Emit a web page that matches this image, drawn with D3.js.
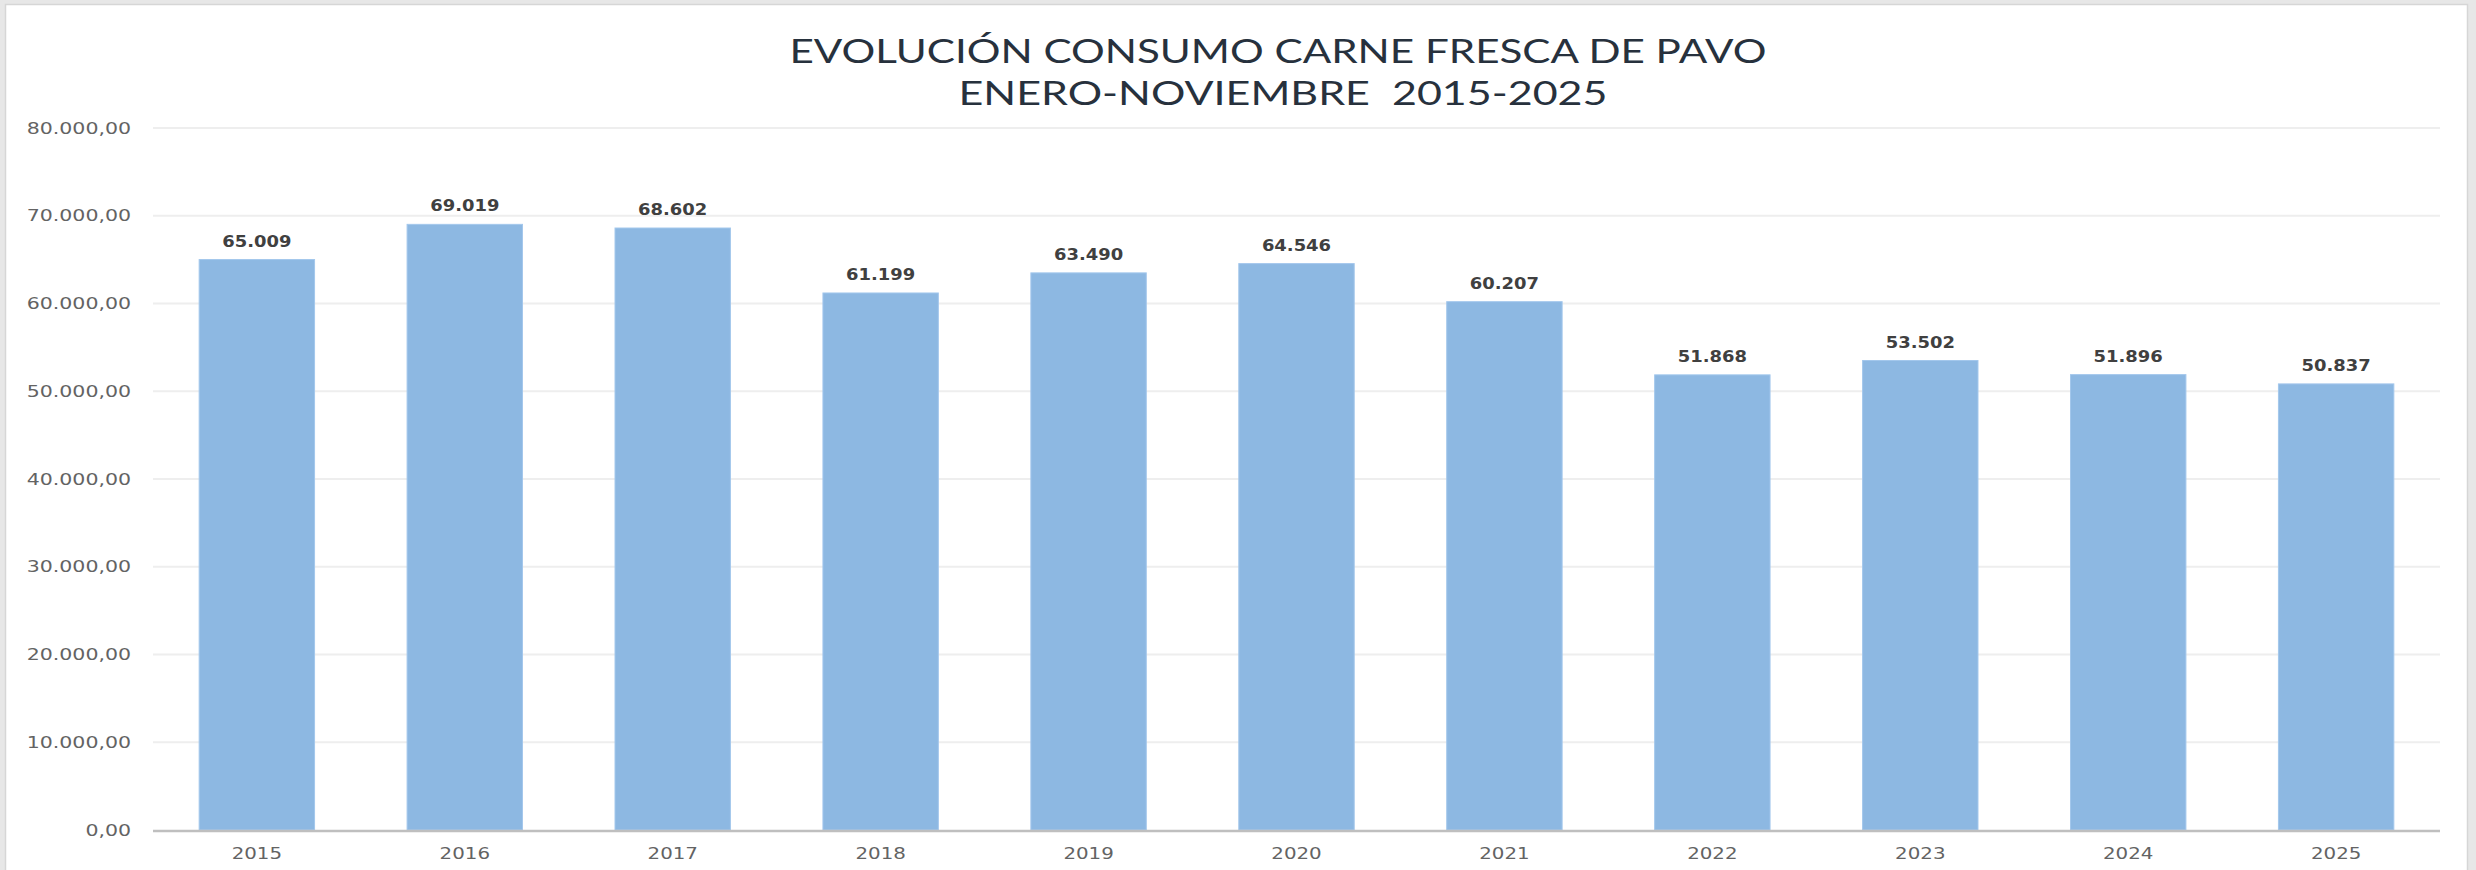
<!DOCTYPE html>
<html>
<head>
<meta charset="utf-8">
<script src="https://cdn.jsdelivr.net/npm/d3@7"></script>
<style>
  html, body { margin: 0; padding: 0; background: #e7e7e7; }
  svg { display: block; }
</style>
</head>
<body>
<svg id="chart" width="2476" height="870"></svg>
<script>
// ---- data ----
const years = ["2015","2016","2017","2018","2019","2020","2021","2022","2023","2024","2025"];
const values = [65009, 69019, 68602, 61199, 63490, 64546, 60207, 51868, 53502, 51896, 50837];
const yTicks = [0, 10000, 20000, 30000, 40000, 50000, 60000, 70000, 80000];
const titleLines = ["EVOLUCIÓN CONSUMO CARNE FRESCA DE PAVO", "ENERO-NOVIEMBRE  2015-2025"];

const W = 2476, H = 870;
const margin = {left: 153, right: W - 2440, top: 128, bottom: H - 830};
const svg = d3.select("#chart");

const es = d3.formatLocale({decimal: ",", thousands: ".", grouping: [3], currency: ["", "€"]});
const fmtTick = es.format(",.2f");
const fmtLabel = es.format(",.0f");

// panel
svg.append("rect").attr("x", 5.5).attr("y", 4.5).attr("width", 2462).attr("height", 900)
  .attr("fill", "#ffffff").attr("stroke", "#d6d6d6").attr("stroke-width", 1.5);

const x = d3.scaleBand().domain(years).range([margin.left, W - margin.right])
  .paddingInner(0.445).paddingOuter(0.222);
const y = d3.scaleLinear().domain([0, 80000]).range([H - margin.bottom, margin.top]);

// gridlines
svg.append("g").selectAll("line").data(yTicks.filter(d => d > 0)).join("line")
  .attr("x1", margin.left).attr("x2", W - margin.right)
  .attr("y1", d => y(d)).attr("y2", d => y(d))
  .attr("stroke", "#eeeeee").attr("stroke-width", 2);

// y axis labels
const yAxis = svg.append("g").attr("transform", `translate(${margin.left},0)`)
  .call(d3.axisLeft(y).tickValues(yTicks).tickFormat(fmtTick).tickSize(0).tickPadding(22));
yAxis.select(".domain").remove();
yAxis.selectAll("text").attr("font-family", "DejaVu Sans").attr("font-size", 16)
  .attr("fill", "#636363").attr("class", "stretch-y");

// bars
svg.append("g").selectAll("rect").data(years).join("rect")
  .attr("x", d => x(d)).attr("width", x.bandwidth())
  .attr("y", (d, i) => y(values[i])).attr("height", (d, i) => y(0) - y(values[i]))
  .attr("fill", "#8db8e2").attr("stroke", "#a3c7ec").attr("stroke-width", 1);

// x axis
const xAxis = svg.append("g").attr("transform", `translate(0,${y(0)})`)
  .call(d3.axisBottom(x).tickSize(0).tickPadding(17));
xAxis.select(".domain").attr("stroke", "#bfbfbf").attr("stroke-width", 2.5)
  .attr("d", `M${margin.left},1H${W - margin.right}`);
xAxis.selectAll("text").attr("font-family", "DejaVu Sans").attr("font-size", 16.5)
  .attr("fill", "#636363").attr("class", "stretch-x");

// data labels
svg.append("g").selectAll("text").data(years).join("text")
  .attr("x", d => x(d) + x.bandwidth() / 2)
  .attr("y", (d, i) => y(values[i]) - 13)
  .attr("text-anchor", "middle")
  .attr("font-family", "DejaVu Sans").attr("font-weight", "bold").attr("font-size", 16)
  .attr("fill", "#404040").attr("class", "stretch-d")
  .text((d, i) => fmtLabel(values[i]));

// title
const titleWidths = [977, 649];
svg.append("g").selectAll("text").data(titleLines).join("text")
  .attr("x", (d, i) => i === 0 ? 1278 : 1283)
  .attr("y", (d, i) => 63 + i * 42)
  .attr("text-anchor", "middle")
  .attr("font-family", "Lato").attr("font-size", 32)
  .attr("fill", "#27313d")
  .attr("textLength", (d, i) => titleWidths[i])
  .attr("lengthAdjust", "spacingAndGlyphs")
  .style("white-space", "pre")
  .text(d => d);

// horizontal stretch to mimic the reference's wide glyphs
function stretch(sel, k) {
  sel.each(function() {
    const w = this.getComputedTextLength();
    d3.select(this).attr("textLength", w * k).attr("lengthAdjust", "spacingAndGlyphs");
  });
}
stretch(svg.selectAll(".stretch-y"), 1.28);
stretch(svg.selectAll(".stretch-x"), 1.2);
stretch(svg.selectAll(".stretch-d"), 1.12);
</script>
</body>
</html>
